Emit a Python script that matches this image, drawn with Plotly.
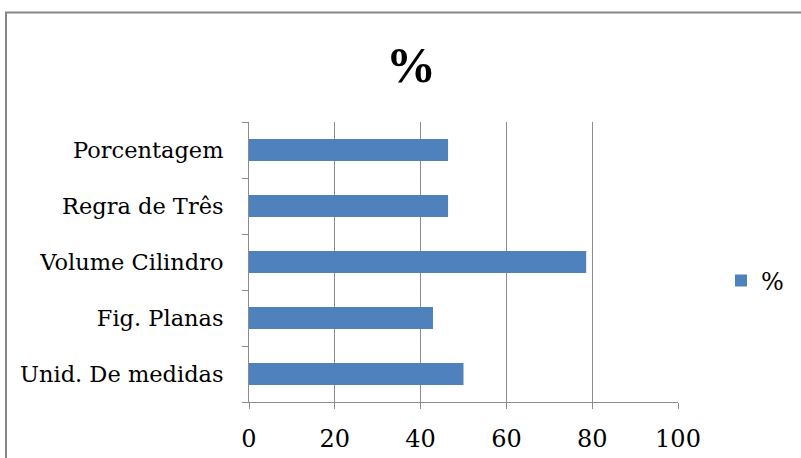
import plotly.graph_objects as go

categories = ["Unid. De medidas", "Fig. Planas", "Volume Cilindro", "Regra de Três", "Porcentagem"]
values = [50.0, 42.9, 78.6, 46.4, 46.4]
series_name = "%"
x_ticks = [0, 20, 40, 60, 80, 100]

W, H = 801, 458
ML, MR, MT, MB = 249, 123, 122, 56
pw, ph = W - ML - MR, H - MT - MB

def px_x(p):
    return (p - ML) / pw

def px_y(p):
    return (H - MB - p) / ph

fig = go.Figure()
fig.add_trace(go.Bar(
    y=categories, x=values, orientation="h", name=series_name,
    marker=dict(color="#4F81BD", line=dict(width=0)),
    width=0.39, showlegend=True,
))

grid = "#8C8C8C"
fig.update_layout(
    width=W, height=H,
    margin=dict(l=ML, r=MR, t=MT, b=MB, autoexpand=False),
    paper_bgcolor="white", plot_bgcolor="white",
    font=dict(family="DejaVu Serif", size=22.5, color="black"),
    title=dict(text="<b>%</b>", x=(411) / W, xanchor="center", y=1 - 64 / H, yanchor="middle",
               font=dict(family="Liberation Serif", size=50, color="black")),
    showlegend=True,
    legend=dict(x=px_x(721), xanchor="left", y=px_y(281), yanchor="middle",
                itemwidth=30, font=dict(family="DejaVu Serif", size=24),
                bgcolor="rgba(0,0,0,0)"),
    xaxis=dict(range=[0, 100], tickvals=x_ticks, showgrid=True, gridcolor=grid, gridwidth=1,
               showline=True, linecolor=grid, linewidth=1, ticks="outside", ticklen=6,
               tickcolor=grid, zeroline=False, ticklabelstandoff=9, fixedrange=True,
               tickfont=dict(size=24), automargin=False),
    yaxis=dict(categoryorder="array", categoryarray=categories, showgrid=False,
               showline=True, linecolor=grid, linewidth=1, ticks="outside", ticklen=6,
               tickcolor=grid, tickson="boundaries", ticklabelstandoff=20, range=[-0.5, 4.5],
               automargin=False),
    shapes=[dict(type="path", xref="paper", yref="paper",
                 path=f"M {px_x(6)} {px_y(470)} L {px_x(6)} {px_y(12.5)} L {px_x(820)} {px_y(12.5)}",
                 line=dict(color="#878787", width=2))],
)

fig.write_html("out.html")
